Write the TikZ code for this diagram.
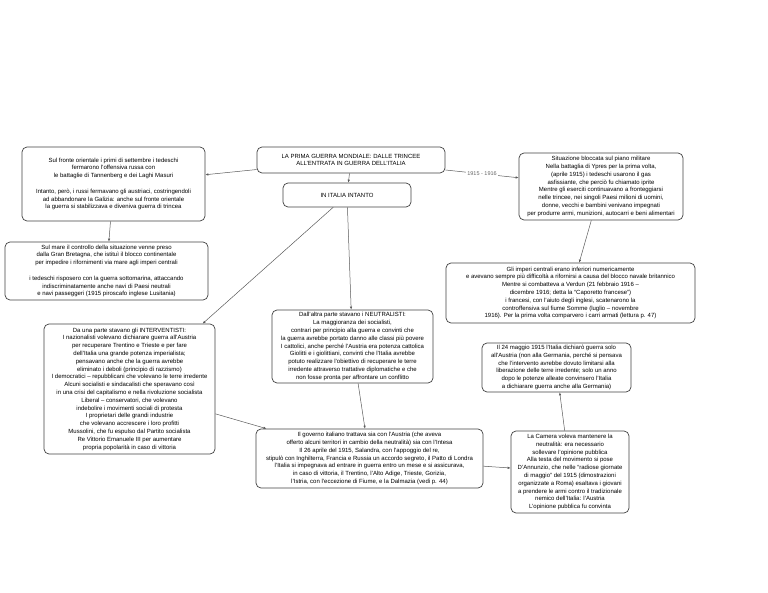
\documentclass[tikz,border=0pt]{standalone}
\usepackage{fontspec}
\setmainfont{Liberation Sans}
\usetikzlibrary{arrows.meta}
\begin{document}
\begin{tikzpicture}[x=1pt, y=-1pt,
        box/.style={draw=black!75, line width=0.7pt, rounded corners=5pt, align=center, inner sep=1pt,
            font=\fontsize{6}{7.8}\selectfont},
        link/.style={draw=black!65, line width=0.5pt, -{Latex[length=3pt,width=2.4pt]}}]
        \useasboundingbox (0,0) rectangle (768,593);

        \node [box, minimum width=188pt, minimum height=26pt] (A) at (351,160) {LA PRIMA GUERRA MONDIALE: DALLE TRINCEE\\ ALL'ENTRATA IN GUERRA DELL'ITALIA};
        \node [box, minimum width=183pt, minimum height=74pt] (B) at (113.5,184) {Sul fronte orientale i primi di settembre i tedeschi\\ fermarono l'offensiva russa con\\ le battaglie di Tannenberg e dei Laghi Masuri\\[7.8pt] Intanto, però, i russi fermavano gli austriaci, costringendoli\\ ad abbandonare la Galizia: anche sul fronte orientale\\ la guerra si stabilizzava e diveniva guerra di trincea};
        \node [box, minimum width=164pt, minimum height=67pt] (C) at (601,186.5) {Situazione bloccata sul piano militare\\ Nella battaglia di Ypres per la prima volta,\\ (aprile 1915) i tedeschi usarono il gas\\ asfissiante, che perciò fu chiamato iprite\\ Mentre gli eserciti continuavano a fronteggiarsi\\ nelle trincee, nei singoli Paesi milioni di uomini,\\ donne, vecchi e bambini venivano impegnati\\ per produrre armi, munizioni, autocarri e beni alimentari};
        \node [box, minimum width=128pt, minimum height=24pt] (D) at (347,195) {IN ITALIA INTANTO};
        \node [box, minimum width=203pt, minimum height=58pt] (E) at (106.5,271) {Sul mare il controllo della situazione venne preso\\ dalla Gran Bretagna, che istituì il blocco continentale\\ per impedire i rifornimenti via mare agli imperi centrali\\[7.8pt] i tedeschi risposero con la guerra sottomarina, attaccando\\ indiscriminatamente anche navi di Paesi neutrali\\ e navi passeggeri (1915 piroscafo inglese Lusitania)};
        \node [box, minimum width=249pt, minimum height=60pt] (F) at (570.5,293) {Gli imperi centrali erano inferiori numericamente\\ e avevano sempre più difficoltà a rifornirsi a causa del blocco navale britannico\\ Mentre si combatteva a Verdun (21 febbraio 1916 --\\ dicembre 1916; detta la ``Caporetto francese'')\\ i francesi, con l'aiuto degli inglesi, scatenarono la\\ controffensiva sul fiume Somme (luglio -- novembre\\ 1916). Per la prima volta comparvero i carri armati (lettura p. 47)};
        \node [box, minimum width=171pt, minimum height=130pt] (G) at (129.5,389) {Da una parte stavano gli INTERVENTISTI:\\ I nazionalisti volevano dichiarare guerra all'Austria\\ per recuperare Trentino e Trieste e per fare\\ dell'Italia una grande potenza imperialista;\\ pensavano anche che la guerra avrebbe\\ eliminato i deboli (principio di razzismo)\\ I democratici -- repubblicani che volevano le terre irredente\\ Alcuni socialisti e sindacalisti che speravano così\\ in una crisi del capitalismo e nella rivoluzione socialista\\ Liberal -- conservatori, che volevano\\ indebolire i movimenti sociali di protesta\\ I proprietari delle grandi industrie\\ che volevano accrescere i loro profitti\\ Mussolini, che fu espulso dal Partito socialista\\ Re Vittorio Emanuele III per aumentare\\ propria popolarità in caso di vittoria};
        \node [box, minimum width=161pt, minimum height=73pt] (H) at (352.5,346.5) {Dall'altra parte stavano i NEUTRALISTI:\\ La maggioranza dei socialisti,\\ contrari per principio alla guerra e convinti che\\ la guerra avrebbe portato danno alle classi più povere\\ I cattolici, anche perché l'Austria era potenza cattolica\\ Giolitti e i giolittiani, convinti che l'Italia avrebbe\\ potuto realizzare l'obiettivo di recuperare le terre\\ irredente attraverso trattative diplomatiche e che\\ non fosse pronta per affrontare un conflitto};
        \node [box, minimum width=149pt, minimum height=49pt] (I) at (556.5,367.5) {Il 24 maggio 1915 l'Italia dichiarò guerra solo\\ all'Austria (non alla Germania, perché si pensava\\ che l'intervento avrebbe dovuto limitarsi alla\\ liberazione delle terre irredente; solo un anno\\ dopo le potenze alleate convinsero l'Italia\\ a dichiarare guerra anche alla Germania)};
        \node [box, minimum width=227pt, minimum height=59pt] (J) at (369.5,458.5) {Il governo italiano trattava sia con l'Austria (che aveva\\ offerto alcuni territori in cambio della neutralità) sia con l'Intesa\\ Il 26 aprile del 1915, Salandra, con l'appoggio del re,\\ stipulò con Inghilterra, Francia e Russia un accordo segreto, il Patto di Londra\\ l'Italia si impegnava ad entrare in guerra entro un mese e si assicurava,\\ in caso di vittoria, il Trentino, l'Alto Adige, Trieste, Gorizia,\\ l'Istria, con l'eccezione di Fiume, e la Dalmazia (vedi p. 44)};
        \node [box, minimum width=118pt, minimum height=82pt] (K) at (570,472) {La Camera voleva mantenere la\\ neutralità: era necessario\\ sollevare l'opinione pubblica\\ Alla testa del movimento si pose\\ D'Annunzio, che nelle ``radiose giornate\\ di maggio'' del 1915 (dimostrazioni\\ organizzate a Roma) esaltava i giovani\\ a prendere le armi contro il tradizionale\\ nemico dell'Italia: l'Austria\\ L'opinione pubblica fu convinta};

        \draw [link] (A) -- (B); \draw [link] (A) -- (D);
        \draw [link] (A) -- node [fill=white, inner sep=1pt, text=black!60, font=\fontsize{5.5}{6}\selectfont] {1915 - 1916} (C);
        \draw [link] (B) -- (E); \draw [link] (C) -- (F);
        \draw [link] (D) -- (G); \draw [link] (D) -- (H);
        \draw [link] (G) -- (J); \draw [link] (H) -- (J);
        \draw [link] (J) -- (K); \draw [link] (K) -- (I);
    \end{tikzpicture}
\end{document}
